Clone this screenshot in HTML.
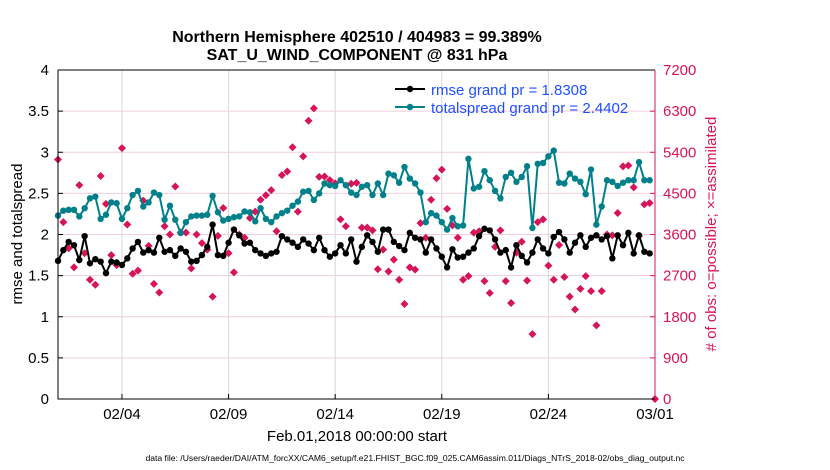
<!DOCTYPE html>
<html><head><meta charset="utf-8"><style>
body{margin:0;background:#fff;}
svg{display:block;font-family:"Liberation Sans",Arial,sans-serif;}
</style></head><body>
<svg id="chart" width="830" height="470" viewBox="0 0 830 470">
<text x="357" y="42" text-anchor="middle" font-size="16" font-weight="bold">Northern Hemisphere 402510 / 404983 = 99.389%</text>
<text x="357" y="60" text-anchor="middle" font-size="16" font-weight="bold">SAT_U_WIND_COMPONENT @ 831 hPa</text>
<g id="grid"></g>
<g id="marks"></g>
<g id="axes"></g>
<text transform="translate(22,234) rotate(-90)" text-anchor="middle" font-size="15">rmse and totalspread</text>
<text transform="translate(716,234) rotate(-90)" text-anchor="middle" font-size="15" fill="#d6145a"># of obs: o=possible; ×=assimilated</text>
<text x="357" y="441" text-anchor="middle" font-size="15">Feb.01,2018 00:00:00 start</text>
<text x="415" y="461" text-anchor="middle" font-size="8.6">data file: /Users/raeder/DAI/ATM_forcXX/CAM6_setup/f.e21.FHIST_BGC.f09_025.CAM6assim.011/Diags_NTrS_2018-02/obs_diag_output.nc</text>
<g>
<line x1="395" y1="89" x2="425" y2="89" stroke="#000" stroke-width="2"/><circle cx="410" cy="89" r="3.2" fill="#000"/>
<text x="431" y="95" font-size="15" fill="#1f4fff">rmse grand pr = 1.8308</text>
<line x1="395" y1="107" x2="425" y2="107" stroke="#00808a" stroke-width="2"/><circle cx="410" cy="107" r="3.2" fill="#00808a"/>
<text x="431" y="113" font-size="15" fill="#1f4fff">totalspread grand pr = 2.4402</text>
</g>
</svg>
<script>
const xTickLabels=["02/04","02/09","02/14","02/19","02/24","03/01"];
const xTickDays=[3,8,13,18,23,28];
const yTicks=[0,0.5,1,1.5,2,2.5,3,3.5,4];
const yTickLabels=["0","0.5","1","1.5","2","2.5","3","3.5","4"];
const rTicks=[0,900,1800,2700,3600,4500,5400,6300,7200];
const rmse=[1.68,1.81,1.91,1.87,1.69,1.98,1.65,1.70,1.67,1.53,1.67,1.66,1.63,1.71,1.83,1.91,1.78,1.81,1.78,1.96,1.79,1.81,1.74,1.83,1.79,1.67,1.68,1.75,1.85,2.12,1.75,1.74,1.90,2.06,1.99,1.89,1.90,1.81,1.77,
1.74,1.77,1.79,1.98,1.94,1.90,1.85,1.94,1.89,1.81,1.96,1.81,1.73,1.77,1.87,1.77,1.94,1.67,1.85,1.99,1.91,1.79,2.06,2.06,1.91,1.86,1.81,2.02,1.96,1.94,1.78,1.94,1.83,1.73,1.60,1.82,1.72,
1.73,1.78,1.83,1.98,2.07,2.05,1.94,1.78,1.81,1.60,1.87,1.74,1.66,1.78,1.94,1.83,1.77,1.97,2.03,1.94,1.78,1.90,1.99,1.85,1.96,1.99,1.94,1.98,1.71,1.99,1.87,2.02,1.77,1.99,1.79,1.77];
const spread=[2.23,2.29,2.30,2.30,2.22,2.32,2.44,2.46,2.19,2.24,2.39,2.38,2.19,2.32,2.48,2.53,2.34,2.39,2.51,2.48,2.18,2.35,2.18,2.02,2.15,2.22,2.23,2.23,2.24,2.47,2.27,2.17,2.19,2.21,2.22,2.28,2.27,2.16,2.32,
2.19,2.15,2.22,2.26,2.29,2.35,2.40,2.52,2.53,2.42,2.50,2.62,2.60,2.59,2.66,2.60,2.51,2.48,2.58,2.60,2.48,2.62,2.48,2.74,2.72,2.63,2.82,2.68,2.62,2.51,2.15,2.26,2.23,2.15,2.06,2.20,2.10,
2.11,2.92,2.56,2.58,2.77,2.66,2.53,2.44,2.70,2.75,2.64,2.70,2.83,2.08,2.86,2.87,2.95,3.02,2.63,2.62,2.74,2.68,2.64,2.49,2.79,2.12,2.34,2.66,2.64,2.59,2.63,2.66,2.66,2.88,2.66,2.66];
const nobs=[5240,3870,3300,2880,4680,3190,2610,2500,4880,4270,3150,2930,5490,3820,2740,2810,4340,3350,2520,2330,3780,3600,4650,3640,3640,2860,3600,3410,3270,2240,3570,4180,3190,2770,3600,3530,3960,4100,4360,
4460,4570,3670,4900,4980,5510,4100,5310,6090,6360,4860,4870,4790,4720,3930,3780,4710,4730,3750,3750,3690,2840,3270,2790,3050,2610,2080,2880,2830,3850,3530,4360,4830,5020,4160,3800,3530,
2610,2690,3640,3670,2580,2320,3330,3690,2580,2100,3200,3440,2590,1420,3870,3930,2920,2610,3370,2670,2240,1960,2410,2690,2360,1610,2360,3600,3580,4070,5090,5110,4630,3570,4260,4290,0];
const NS="http://www.w3.org/2000/svg";
const L=58,R=655,T=70,B=399;
const xs=d=>L+(d/28)*(R-L);
const ys=v=>B-(v/4)*(B-T);
const yr=v=>B-(v/7200)*(B-T);
function mk(tag,attrs,parent){const e=document.createElementNS(NS,tag);for(const k in attrs)e.setAttribute(k,attrs[k]);parent.appendChild(e);return e;}
const grid=document.getElementById('grid'),marks=document.getElementById('marks'),axes=document.getElementById('axes');
yTicks.forEach((v,i)=>{if(v>0&&v<4){const g=mk('line',{x1:L,x2:R,y1:ys(v),y2:ys(v),stroke:'#f2cddb','stroke-width':1},grid);

}
const t=mk('text',{x:L-9,y:ys(v)+5,'text-anchor':'end','font-size':15},axes);t.textContent=yTickLabels[i];


mk('line',{x1:L,x2:L+5,y1:ys(v),y2:ys(v),stroke:'#000'},axes);});
rTicks.forEach(v=>{const t=mk('text',{x:R+8,y:yr(v)+5,'font-size':15,fill:'#d6145a'},axes);t.textContent=v;


mk('line',{x1:R-5,x2:R,y1:yr(v),y2:yr(v),stroke:'#d6145a'},axes);});
xTickDays.forEach((d,i)=>{if(d<28){const g=mk('line',{x1:xs(d),x2:xs(d),y1:T,y2:B,stroke:'#d8d8d8','stroke-width':1},grid);

}
const t=mk('text',{x:xs(d),y:419,'text-anchor':'middle','font-size':15},axes);t.textContent=xTickLabels[i];


mk('line',{x1:xs(d),x2:xs(d),y1:B,y2:B-5,stroke:'#000'},axes);});
mk('path',{d:`M${L},${T}H${R}M${L},${T}V${B}H${R}`,stroke:'#000',fill:'none','stroke-width':1},axes);
mk('line',{x1:R,x2:R,y1:T,y2:B,stroke:'#d6145a','stroke-width':1},axes);
nobs.forEach((v,i)=>{const x=xs(i*0.25),y=yr(v);
const p=mk('path',{d:`M${x},${y-4}L${x+4},${y}L${x},${y+4}L${x-4},${y}Z`,fill:'#d6145a'},marks);

});
function series(arr,color,name){
const pts=arr.map((v,i)=>xs(i*0.25)+','+ys(v)).join(' ');
const pl=mk('polyline',{points:pts,fill:'none',stroke:color,'stroke-width':2},marks);


arr.forEach((v,i)=>{const c=mk('circle',{cx:xs(i*0.25),cy:ys(v),r:3.2,fill:color},marks);

});}
series(spread,'#00808a','totalspread');
series(rmse,'#000','rmse');
</script>
</body></html>
